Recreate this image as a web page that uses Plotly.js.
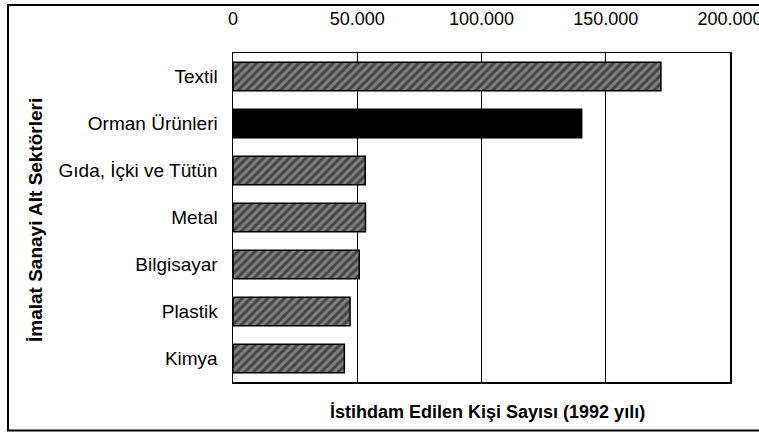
<!DOCTYPE html>
<html>
<head>
<meta charset="utf-8">
<script src="https://cdn.plot.ly/plotly-3.0.1.min.js"></script>
<style>
  html, body { margin: 0; padding: 0; background: #ffffff; overflow: hidden; }
  #chart { width: 759px; height: 432px; }
</style>
</head>
<body>
<div id="chart"></div>
<script>
// Data (top to bottom as shown)
const categories = ["Textil", "Orman Ürünleri", "Gıda, İçki ve Tütün", "Metal", "Bilgisayar", "Plastik", "Kimya"];
const employees = [172200, 140300, 53200, 53300, 50800, 47100, 44800];
const xTickValues = [0, 50000, 100000, 150000, 200000];
const xTitle = "İstihdam Edilen Kişi Sayısı (1992 yılı)";
const yTitle = "İmalat Sanayi Alt Sektörleri";
const highlighted = "Orman Ürünleri";

const W = 759, H = 432;
const M = { l: 233, r: 29, t: 53, b: 50 };
const pw = W - M.l - M.r, ph = H - M.t - M.b;
const px = x => (x - M.l) / pw;
const py = y => (H - M.b - y) / ph;

const colors = categories.map(c => c === highlighted ? "#000000" : "#808080");
const shapesPat = categories.map(c => c === highlighted ? "" : "/");

const FONT = "Liberation Sans, Arial, sans-serif";

const trace = {
  type: "bar",
  orientation: "h",
  y: categories,
  x: employees,
  marker: {
    color: colors,
    line: { color: "#000000", width: 1.5 },
    pattern: { shape: shapesPat, fillmode: "overlay", bgcolor: "#808080", fgcolor: "#1e1e1e", fgopacity: 1, size: 6, solidity: 0.5 }
  },
  width: 0.61,
  hoverinfo: "x+y"
};

const layout = {
  width: W, height: H,
  margin: M,
  paper_bgcolor: "#ffffff",
  plot_bgcolor: "#ffffff",
  separators: ",.",
  showlegend: false,
  font: { family: FONT, size: 19, color: "#000000" },
  xaxis: {
    side: "top",
    range: [0, 200000],
    tickvals: xTickValues,
    tickformat: ",d",
    ticklabeloverflow: "allow",
    showgrid: true, gridcolor: "#000000", gridwidth: 1,
    zeroline: false,
    showline: true, mirror: true, linecolor: "#000000", linewidth: 1.5,
    ticks: "",
    ticklabelstandoff: 19,
    tickfont: { family: FONT, size: 18, color: "#000000" },
    fixedrange: true
  },
  yaxis: {
    autorange: "reversed",
    type: "category",
    showgrid: false,
    zeroline: false,
    showline: true, mirror: true, linecolor: "#000000", linewidth: 1.5,
    ticks: "",
    ticklabelstandoff: 10,
    tickfont: { family: FONT, size: 19, color: "#000000" },
    fixedrange: true
  },
  annotations: [
    {
      text: "<b>" + xTitle + "</b>", xref: "paper", yref: "paper",
      x: px(487.5), y: py(412), xanchor: "center", yanchor: "middle",
      showarrow: false, font: { family: FONT, size: 18, color: "#000000" }
    },
    {
      text: "<b>" + yTitle + "</b>", xref: "paper", yref: "paper",
      x: px(35), y: py(220), xanchor: "center", yanchor: "middle", textangle: -90,
      showarrow: false, font: { family: FONT, size: 19, color: "#000000" }
    }
  ],
  shapes: [
    {
      type: "rect", xref: "paper", yref: "paper",
      x0: px(8), x1: px(790), y0: py(430.5), y1: py(5),
      line: { color: "#000000", width: 2 }, fillcolor: "rgba(0,0,0,0)", layer: "below"
    }
  ]
};

Plotly.newPlot("chart", [trace], layout, { displayModeBar: false, staticPlot: true });
</script>
</body>
</html>
